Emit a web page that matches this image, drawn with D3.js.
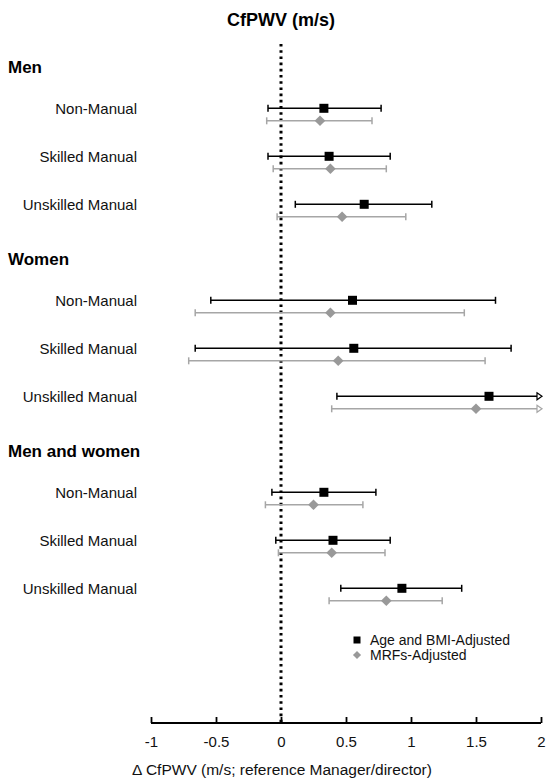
<!DOCTYPE html>
<html>
<head>
<meta charset="utf-8">
<script src="https://cdn.jsdelivr.net/npm/d3@7"></script>
<style>
  html, body { margin: 0; padding: 0; background: #fff; }
  svg { display: block; font-family: "Liberation Sans", Arial, sans-serif; }
</style>
</head>
<body>
<svg id="chart" width="546" height="781"></svg>
<script>
// ---- data ----
const groups = ["Men", "Women", "Men and women"];
const categories = ["Non-Manual", "Skilled Manual", "Unskilled Manual"];
// Age and BMI-Adjusted (per group, per category)
const ageBmiEst   = [0.33, 0.37, 0.64,  0.55, 0.56, 1.60,  0.33, 0.40, 0.93];
const ageBmiLower = [-0.10, -0.10, 0.11, -0.54, -0.66, 0.43, -0.07, -0.04, 0.46];
const ageBmiUpper = [0.77, 0.84, 1.16,  1.65, 1.77, 2.80,  0.73, 0.84, 1.39];
// MRFs-Adjusted
const mrfEst   = [0.30, 0.38, 0.47,  0.38, 0.44, 1.50,  0.25, 0.39, 0.81];
const mrfLower = [-0.11, -0.06, -0.03, -0.66, -0.71, 0.39, -0.12, -0.02, 0.37];
const mrfUpper = [0.70, 0.81, 0.96,  1.41, 1.57, 2.70,  0.63, 0.80, 1.24];
const xTicks = [-1, -0.5, 0, 0.5, 1, 1.5, 2];
const seriesNames = ["Age and BMI-Adjusted", "MRFs-Adjusted"];

// ---- layout ----
const svg = d3.select("#chart");
const x = d3.scaleLinear().domain([-1, 2]).range([151, 541]);
const y = d3.scaleLinear().domain([0, 8]).range([108.3, 492.3]); // slot units
const greyOffset = 12.5;
const black = "#000", grey = "#999", greyLine = "#a6a6a6";
const [xMin, xMax] = x.domain();

// rows
const rows = [];
groups.forEach((g, gi) => {
  categories.forEach((c, ci) => {
    const i = gi * 3 + ci;
    rows.push({group: g, cat: c, slot: gi * 4 + ci,
      a: {est: ageBmiEst[i], lo: ageBmiLower[i], hi: ageBmiUpper[i]},
      m: {est: mrfEst[i], lo: mrfLower[i], hi: mrfUpper[i]}});
  });
});

// title
svg.append("text").attr("x", x(0)).attr("y", 26).attr("text-anchor", "middle")
  .attr("font-size", 18).attr("font-weight", "bold").text("CfPWV (m/s)");

// reference line at 0
svg.append("line").attr("x1", x(0)).attr("x2", x(0)).attr("y1", 44).attr("y2", 722)
  .attr("stroke", black).attr("stroke-width", 3).attr("stroke-dasharray", "2.6,3.6");

// group headers
groups.forEach((g, gi) => {
  svg.append("text").attr("x", 8).attr("y", y(gi * 4 - 0.86) + 6)
    .attr("font-size", 17).attr("font-weight", "bold").text(g);
});

// category labels
svg.selectAll("text.cat").data(rows).join("text").attr("class", "cat")
  .attr("x", 137).attr("y", d => y(d.slot) + 5.5).attr("text-anchor", "end")
  .attr("font-size", 15).attr("fill", "#111").text(d => d.cat);

// error bars
function drawBars(key, dy, color, width) {
  const gBars = svg.append("g");
  rows.forEach(d => {
    const v = d[key];
    const yy = y(d.slot) + dy;
    const lo = Math.max(v.lo, xMin), hi = Math.min(v.hi, xMax);
    gBars.append("line").attr("x1", x(lo)).attr("x2", x(hi)).attr("y1", yy).attr("y2", yy)
      .attr("stroke", color).attr("stroke-width", width);
    [[v.lo, lo], [v.hi, hi]].forEach(([raw, c]) => {
      if (raw === c) {
        gBars.append("line").attr("x1", x(c)).attr("x2", x(c)).attr("y1", yy - 3.5).attr("y2", yy + 3.5)
          .attr("stroke", color).attr("stroke-width", width);
      } else {
        const xp = x(c);
        gBars.append("path").attr("d", `M${xp - 4},${yy - 3.5}L${xp + 1},${yy}L${xp - 4},${yy + 3.5}Z`)
          .attr("fill", "#fff").attr("stroke", color).attr("stroke-width", 1.2);
      }
    });
  });
}
drawBars("a", 0, black, 1.5);
drawBars("m", greyOffset, greyLine, 1.5);

// markers
svg.selectAll("rect.sq").data(rows).join("rect").attr("class", "sq")
  .attr("x", d => x(d.a.est) - 4.5).attr("y", d => y(d.slot) - 4.5)
  .attr("width", 9).attr("height", 9).attr("fill", black);
const diamond = d3.symbol().type(d3.symbolDiamond2).size(72);
svg.selectAll("path.dm").data(rows).join("path").attr("class", "dm")
  .attr("transform", d => `translate(${x(d.m.est)},${y(d.slot) + greyOffset})`)
  .attr("d", diamond).attr("fill", grey);

// legend
const lg = svg.append("g");
lg.append("rect").attr("x", 353.5).attr("y", 636.5).attr("width", 7).attr("height", 7).attr("fill", black);
lg.append("path").attr("transform", "translate(357,655)").attr("d", d3.symbol().type(d3.symbolDiamond2).size(42)).attr("fill", grey);
seriesNames.forEach((s, i) => {
  lg.append("text").attr("x", 370).attr("y", 645 + i * 15).attr("font-size", 14).attr("fill", "#111").text(s);
});

// x axis (ticks pointing up)
const axisY = 723;
const axis = d3.axisTop(x).tickValues(xTicks).tickSize(6).tickFormat(d => String(d));
const gAxis = svg.append("g").attr("transform", `translate(0,${axisY})`).call(axis);
gAxis.select(".domain").attr("d", `M${x(xMin)},0H${x(xMax)}`).attr("stroke", black).attr("stroke-width", 1.8);
gAxis.selectAll(".tick line").attr("stroke", black).attr("stroke-width", 1.8);
gAxis.selectAll(".tick text").attr("y", 24).attr("dy", 0).attr("font-size", 15)
  .attr("font-family", "Liberation Sans, Arial, sans-serif").attr("fill", "#111");

// axis title
svg.append("text").attr("x", 282).attr("y", 775).attr("text-anchor", "middle")
  .attr("font-size", 15.5).attr("fill", "#111").text("Δ CfPWV (m/s; reference Manager/director)");
</script>
</body>
</html>
